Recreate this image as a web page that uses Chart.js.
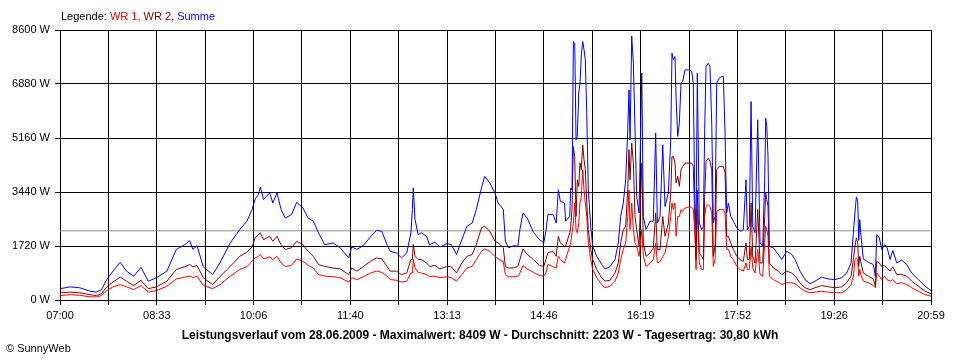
<!DOCTYPE html>
<html>
<head>
<meta charset="utf-8">
<script src="https://cdn.jsdelivr.net/npm/chart.js@4"></script>
<style>
  html, body { margin: 0; padding: 0; background: #fff; }
  canvas { display: block; }
</style>
</head>
<body>
<canvas id="chart" width="960" height="360"></canvas>
<script>
// ---------------------------------------------------------------------------
// Data (28.06.2009)
// ---------------------------------------------------------------------------
const timeLabels = ['07:00', '08:33', '10:06', '11:40', '13:13', '14:46', '16:19', '17:52', '19:26', '20:59'];
const yTicks = [0, 1720, 3440, 5160, 6880, 8600];
const dayMinutes = 839;   // 07:00 .. 20:59
const average = 2203;     // W, "Durchschnitt"

// minutes after 07:00
const minutesFrom7 = [
  0, 10, 19, 29, 35, 40, 45, 51, 58, 64,
  71, 78, 85, 93, 103, 112, 120, 125, 128, 132,
  138, 147, 154, 164, 173, 180, 185, 188, 191, 193,
  196, 202, 205, 209, 213, 217, 223, 228, 234, 239,
  244, 249, 255, 263, 270, 278, 281, 286, 292, 299,
  305, 310, 315, 318, 324, 329, 334, 338, 339.4, 340.3,
  342, 345, 348, 353, 356, 361, 366, 373, 377, 382,
  387, 392, 397, 401, 406, 409, 414, 419, 422, 427,
  429, 432, 437, 441, 443, 446, 450, 456, 462, 466,
  468, 470, 475, 478, 480, 482, 486, 487, 491, 492,
  493.2, 494.5, 495.8, 497.1, 498.3, 499.7, 500.9, 502.2, 503.5, 504.8,
  506, 507.4, 508.9, 511.2, 513.2, 517, 521.8, 525, 529.8, 534.6,
  537.8, 540.1, 542.6, 544.9, 546.9, 548.1, 549.1, 550.7, 552.3, 553.9,
  555.5, 557.8, 560.4, 561.9, 564.5, 568.4, 571.5, 573.8, 575.4, 578,
  580.6, 582.8, 586, 588.3, 589.5, 590.8, 592.4, 593.4, 595, 596.6,
  598.2, 599.8, 602.1, 605.2, 608.5, 610, 611.4, 612.7, 613.9, 615.8,
  618.1, 619.7, 621, 622.3, 624.5, 626.1, 627.8, 629.3, 631, 632.6,
  635.1, 637.4, 639, 640.6, 642.2, 643.8, 646.1, 648.6, 651.9, 655,
  658.2, 660.8, 662.1, 664, 665.7, 667.3, 669.5, 672.1, 674.3, 676.9,
  678.8, 679.8, 680.8, 682, 683.3, 687.1, 692, 695.2, 700, 704.8,
  708, 712.8, 717.6, 722.5, 727.3, 733.7, 740.1, 746.5, 753, 757.8,
  762, 764.2, 765.8, 767.1, 768.4, 769.4, 770.4, 771.3, 773.8, 778.6,
  783.5, 785.4, 786.7, 789.2, 791.6, 794.1, 796.4, 799.6, 802.2, 806,
  810.8, 815.6, 820.4, 826.8, 833.3, 839,
];

// W
const summe = [
  360, 420, 390, 280, 250, 330, 650, 920, 1200, 920,
  760, 1040, 600, 710, 920, 1610, 1760, 1890, 1610, 1730,
  1060, 810, 1180, 1820, 2240, 2510, 2880, 3220, 3350, 3600,
  3200, 3410, 3090, 3410, 2880, 2610, 2720, 3110, 2930, 2610,
  2510, 2140, 1760, 1820, 1660, 1340, 1690, 1610, 1730, 2010,
  2220, 2190, 1760, 1550, 1500, 1340, 1500, 2140, 2880, 3570,
  2560, 2080, 2140, 2030, 1760, 1840, 1690, 1800, 1760, 1450,
  1920, 2350, 2450, 2880, 3570, 3940, 3730, 3410, 3090, 2880,
  1870, 1660, 1730, 1710, 2240, 2770, 2610, 2160, 1920, 1820,
  2190, 2720, 2720, 2450, 3510, 3140, 3090, 2510, 2660, 3570,
  3510, 8230, 8180, 5100, 5210, 6590, 6910, 7810, 8230, 7970,
  7650, 5950, 3510, 2350, 1710, 1390, 1130, 990, 1060, 1290,
  1820, 2660, 3090, 3830, 5420, 6690, 5100, 8409, 7540, 5420,
  3300, 2770, 7230, 2660, 2240, 2510, 2510, 5320, 2450, 2660,
  4940, 2980, 3410, 5100, 7860, 7650, 7750, 6480, 5210, 5640,
  6910, 6960, 7330, 7330, 7280, 6910, 3300, 2240, 7230, 2450,
  2240, 2350, 5420, 7430, 7540, 7430, 5640, 2450, 2660, 6910,
  7070, 7120, 7120, 5320, 2770, 3090, 2660, 2510, 2300, 2190,
  2240, 3830, 2240, 2350, 6320, 2350, 2140, 5740, 1820, 1710,
  3830, 5790, 5530, 4570, 1710, 1660, 1450, 1290, 1550, 1450,
  1290, 920, 650, 520, 600, 730, 670, 650, 710, 860,
  1180, 2140, 2800, 3280, 3140, 1900, 2560, 2140, 1310, 1200,
  1130, 760, 2080, 1980, 1610, 1760, 1710, 1290, 1580, 1180,
  1270, 1130, 860, 650, 440, 300,
];

const wr2 = [
  230, 250, 230, 170, 140, 200, 410, 570, 730, 600,
  460, 630, 360, 420, 600, 970, 1060, 1130, 1060, 1100,
  710, 490, 740, 1070, 1390, 1520, 1690, 1980, 2080, 2140,
  1920, 2030, 1870, 2030, 1760, 1610, 1660, 1870, 1760, 1550,
  1390, 1130, 1070, 1020, 990, 810, 1020, 920, 1060, 1230,
  1340, 1310, 1070, 920, 920, 810, 860, 1290, 1290, 1770,
  1390, 1290, 1290, 1180, 1070, 1100, 990, 1070, 1060, 860,
  1180, 1390, 1450, 1760, 2300, 2350, 2190, 1870, 1820, 1670,
  1070, 1020, 1020, 1070, 1290, 1630, 1450, 1290, 1100, 1070,
  1290, 1510, 1550, 1390, 2030, 1820, 1710, 1710, 2140, 2350,
  2880, 4890, 4570, 2660, 3830, 3620, 4360, 4150, 4940, 4470,
  4150, 3090, 2240, 1610, 1290, 970, 710, 600, 630, 860,
  1180, 1820, 2240, 2350, 3510, 4790, 3830, 5000, 4360, 2660,
  2240, 1710, 4360, 1820, 1390, 1500, 1660, 2770, 1610, 1610,
  2660, 2030, 2450, 3410, 4570, 4570, 4360, 3730, 3940, 3620,
  4150, 4250, 4360, 4360, 4360, 4250, 2660, 1290, 3510, 1500,
  1390, 1290, 3300, 4410, 4520, 4410, 4150, 1390, 1710, 4150,
  4250, 4250, 4250, 4050, 2030, 2030, 1820, 1610, 1390, 1290,
  1230, 1820, 1290, 1290, 3090, 1390, 1180, 2880, 1180, 1180,
  2660, 3410, 3200, 2980, 1180, 1020, 920, 810, 920, 860,
  760, 550, 390, 330, 390, 460, 420, 390, 420, 550,
  760, 1290, 1710, 1980, 1820, 1070, 1390, 1230, 860, 760,
  670, 440, 1230, 1180, 1060, 1100, 1020, 920, 1060, 810,
  810, 760, 600, 440, 280, 200,
];

const wr1 = [
  140, 170, 150, 100, 100, 140, 300, 420, 490, 420,
  330, 460, 250, 300, 440, 670, 730, 760, 710, 760,
  460, 360, 490, 760, 970, 1060, 1230, 1340, 1390, 1450,
  1310, 1370, 1290, 1390, 1180, 1070, 1100, 1310, 1230, 1100,
  1020, 810, 760, 740, 710, 570, 710, 650, 740, 860,
  920, 880, 760, 650, 630, 570, 600, 860, 860, 1290,
  1020, 880, 860, 810, 740, 760, 710, 740, 710, 600,
  810, 1020, 1070, 1290, 1550, 1630, 1550, 1390, 1310, 1220,
  810, 740, 740, 760, 860, 1100, 990, 880, 780, 760,
  860, 1130, 1060, 1020, 1390, 1290, 1180, 1290, 1710, 1820,
  2140, 2450, 3090, 2240, 2140, 2450, 3090, 3300, 4150, 3510,
  3090, 2660, 1820, 1290, 970, 710, 490, 390, 440, 600,
  860, 1290, 1610, 1820, 2660, 3510, 2240, 3090, 2240, 1820,
  1710, 1390, 2240, 1390, 1070, 1180, 1290, 1820, 1180, 1220,
  1390, 1500, 2030, 2660, 3090, 2880, 3090, 2030, 2660, 2660,
  2880, 2820, 2930, 2960, 2960, 2880, 2240, 970, 2880, 1180,
  970, 970, 2660, 2980, 3040, 2980, 2770, 1070, 1290, 2820,
  2880, 2880, 2880, 2770, 1610, 1610, 1390, 1290, 1070, 970,
  920, 1180, 970, 970, 1710, 1020, 860, 1610, 810, 760,
  1820, 2350, 2240, 2030, 760, 650, 570, 490, 550, 550,
  520, 390, 280, 230, 250, 280, 250, 230, 230, 330,
  490, 760, 1290, 1340, 1290, 760, 970, 810, 600, 550,
  460, 390, 860, 760, 650, 760, 650, 600, 650, 520,
  550, 490, 390, 280, 170, 120,
];

const legendParts = [
  ['Legende: ', '#000000'],
  ['WR 1, ', '#ff0000'],
  ['WR 2, ', '#800000'],
  ['Summe', '#0000ff'],
];
const titleText = 'Leistungsverlauf vom 28.06.2009 - Maximalwert: 8409 W - Durchschnitt: 2203 W - Tagesertrag: 30,80 kWh';
const copyrightText = '\u00A9 SunnyWeb';

// ---------------------------------------------------------------------------
// Chart
// ---------------------------------------------------------------------------
const FONT = '"Liberation Sans", Arial, sans-serif';
const tickFont = { family: FONT, size: 11 };

const toPoints = vals => vals.map((v, i) => ({ x: minutesFrom7[i], y: v }));

const lineStyle = {
  borderWidth: 1,
  pointRadius: 0,
  tension: 0,
  fill: false,
};

// legend line, title and copyright drawn straight onto the canvas
const sunnyTextPlugin = {
  id: 'sunnyText',
  afterDraw(chart) {
    const ctx = chart.ctx;
    ctx.save();
    ctx.textBaseline = 'middle';
    ctx.font = `11px ${FONT}`;
    let x = 61;
    legendParts.forEach(([text, color]) => {
      ctx.fillStyle = color;
      ctx.fillText(text, x, 17);
      x += ctx.measureText(text).width;
    });
    ctx.fillStyle = '#000';
    ctx.fillText(copyrightText, 6, 349);
    ctx.font = `bold 12px ${FONT}`;
    ctx.textAlign = 'center';
    ctx.fillText(titleText, 480, 336);
    ctx.restore();
  },
};

new Chart(document.getElementById('chart'), {
  type: 'line',
  data: {
    datasets: [
      { label: 'Summe', data: toPoints(summe), borderColor: '#0000ff', ...lineStyle },
      { label: 'WR 2', data: toPoints(wr2), borderColor: '#800000', ...lineStyle },
      { label: 'WR 1', data: toPoints(wr1), borderColor: '#ff0000', ...lineStyle },
      {
        label: 'Durchschnitt',
        data: [{ x: 0, y: average }, { x: dayMinutes, y: average }],
        borderColor: '#8c8c8c',
        ...lineStyle,
      },
    ],
  },
  options: {
    responsive: false,
    devicePixelRatio: 1,
    animation: false,
    events: [],
    layout: { padding: { top: 30, right: 29, bottom: 0, left: 0 } },
    plugins: {
      legend: { display: false },
      title: { display: false },
      tooltip: { enabled: false },
    },
    scales: {
      x: {
        type: 'linear',
        min: 0,
        max: dayMinutes,
        afterBuildTicks: s => {
          // 18 grid intervals, every second one labelled
          s.ticks = Array.from({ length: 19 }, (_, i) => ({ value: i * dayMinutes / 18 }));
        },
        afterFit: s => { s.height = 60; },
        ticks: {
          autoSkip: false,
          maxRotation: 0,
          padding: 4,
          color: '#000',
          font: tickFont,
          callback: (v, i) => (i % 2 ? '' : timeLabels[i / 2]),
        },
        grid: { color: '#000', lineWidth: 1, tickLength: 5, tickColor: '#000' },
        border: { color: '#000', width: 1 },
      },
      y: {
        min: 0,
        max: 8600,
        afterBuildTicks: s => { s.ticks = yTicks.map(v => ({ value: v })); },
        afterFit: s => { s.width = 60; },
        ticks: {
          padding: 5,
          color: '#000',
          font: tickFont,
          callback: v => `${v} W`,
        },
        grid: { color: '#000', lineWidth: 1, tickLength: 5, tickColor: '#000' },
        border: { color: '#000', width: 1 },
      },
    },
  },
  plugins: [sunnyTextPlugin],
});
</script>
</body>
</html>
